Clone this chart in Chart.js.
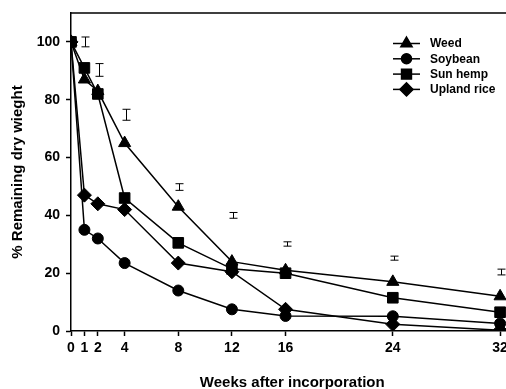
<!DOCTYPE html>
<html>
<head>
<meta charset="utf-8">
<script src="https://cdn.jsdelivr.net/npm/chart.js@4.4.0/dist/chart.umd.min.js"></script>
<style>
  html, body { margin: 0; padding: 0; background: #fff; overflow: hidden; }
  #wrap { width: 522px; height: 389px; }
  canvas { display: block; }
</style>
</head>
<body>
<div id="wrap"><canvas id="decayChart" width="522" height="389" style="width:522px;height:389px"></canvas></div>
<script>
// Weeks after incorporation
const weeks = [0, 1, 2, 4, 8, 12, 16, 24, 32];
const xTicks = [0, 1, 2, 4, 8, 12, 16, 24, 32];
const yTicks = [0, 20, 40, 60, 80, 100];

// % remaining dry weight per residue
const weed = [100, 87, 83, 65, 43, 24, 21, 17, 12];
const soybean = [100, 35, 32, 23.5, 14, 7.5, 5.2, 5.1, 2.6];
const sunHemp = [100, 91, 82, 46, 30.5, 21.5, 20, 11.5, 6.5];
const uplandRice = [100, 47, 44, 42, 23.5, 20.5, 7.5, 2.3, 0.3];

// LSD bars
const barWeeks = [1, 2, 4, 8, 12, 16, 24, 32];
const barCenter = [100, 90.3, 74.8, 49.8, 40, 30.1, 25.2, 20.4];
const barHalf = [1.7, 2.2, 1.9, 1.15, 1.0, 0.75, 0.7, 1.0];

const seriesNames = ['Weed', 'Soybean', 'Sun hemp', 'Upland rice'];
const FONT = '"Liberation Sans", Arial, sans-serif';

function makeSet(label, values, style, radius) {
    return {
        label: label,
        data: weeks.map((w, i) => ({ x: w, y: values[i] })),
        borderColor: '#000',
        backgroundColor: '#000',
        borderWidth: 1.5,
        pointStyle: style,
        pointRadius: radius,
        pointBorderWidth: 1,
        pointBackgroundColor: '#000',
        pointBorderColor: '#000',
        tension: 0,
        fill: false
    };
}

// frame top/right lines
const framePlugin = {
    id: 'frame',
    afterDraw(chart) {
        const { ctx, chartArea } = chart;
        ctx.save();
        ctx.strokeStyle = '#000';
        ctx.lineWidth = 1.5;
        ctx.beginPath();
        ctx.moveTo(chartArea.left, chartArea.top);
        ctx.lineTo(chartArea.right, chartArea.top);
        ctx.lineTo(chartArea.right, chartArea.bottom);
        ctx.stroke();
        ctx.restore();
    }
};

const errorBarPlugin = {
    id: 'errorBars',
    afterDatasetsDraw(chart) {
        const { ctx, scales } = chart;
        ctx.save();
        ctx.strokeStyle = '#000';
        ctx.lineWidth = 1;
        barWeeks.forEach((w, i) => {
            const x = Math.round(scales.x.getPixelForValue(w)) + 1.5;
            const yTop = scales.y.getPixelForValue(barCenter[i] + barHalf[i]);
            const yBot = scales.y.getPixelForValue(barCenter[i] - barHalf[i]);
            ctx.beginPath();
            ctx.moveTo(x, yTop); ctx.lineTo(x, yBot);
            ctx.moveTo(x - 4, yTop); ctx.lineTo(x + 4, yTop);
            ctx.moveTo(x - 4, yBot); ctx.lineTo(x + 4, yBot);
            ctx.stroke();
        });
        ctx.restore();
    }
};

const legendPlugin = {
    id: 'boxLegend',
    afterDraw(chart) {
        const { ctx } = chart;
        ctx.save();
        ctx.font = 'bold 12px ' + FONT;
        ctx.textBaseline = 'middle';
        ctx.fillStyle = '#000';
        chart.data.datasets.forEach((ds, i) => {
            const y = 43.5 + i * 15.3;
            ctx.strokeStyle = '#000';
            ctx.lineWidth = 1.5;
            ctx.beginPath();
            ctx.moveTo(393, y); ctx.lineTo(420, y);
            ctx.stroke();
            ctx.fillStyle = '#000';
            Chart.helpers.drawPoint(ctx, {
                pointStyle: ds.pointStyle,
                radius: ds.pointRadius - 0.5,
                borderWidth: 1,
                rotation: 0
            }, 406.5, y);
            ctx.fill();
            ctx.fillText(ds.label, 430, y + 0.5);
        });
        ctx.restore();
    }
};

const ctx = document.getElementById('decayChart').getContext('2d');
const decayChart = new Chart(ctx, {
    type: 'line',
    data: {
        datasets: [
            makeSet(seriesNames[0], weed, 'triangle', 7),
            makeSet(seriesNames[1], soybean, 'circle', 5.5),
            makeSet(seriesNames[2], sunHemp, 'rect', 7.5),
            makeSet(seriesNames[3], uplandRice, 'rectRot', 7)
        ]
    },
    options: {
        responsive: false,
        animation: false,
        layout: { padding: { top: 13, right: 3.5, left: 0, bottom: 0 } },
        plugins: {
            legend: { display: false },
            tooltip: { enabled: false }
        },
        scales: {
            x: {
                type: 'linear',
                min: 0,
                max: 33,
                afterBuildTicks: (scale) => { scale.ticks = xTicks.map(v => ({ value: v })); },
                afterFit: (scale) => {
                    scale.height = 58;
                    scale.paddingLeft = 0;
                    scale.paddingRight = 0;
                },
                grid: {
                    display: true,
                    drawOnChartArea: false,
                    drawTicks: true,
                    tickLength: 5,
                    tickWidth: 1.5,
                    tickColor: '#000'
                },
                border: { display: true, color: '#000', width: 1.5 },
                ticks: {
                    autoSkip: false,
                    maxRotation: 0,
                    padding: 4,
                    color: '#000',
                    font: { family: FONT, size: 14, weight: 'bold' }
                },
                title: {
                    display: true,
                    text: 'Weeks after incorporation',
                    color: '#000',
                    padding: { top: 0, bottom: -1.5 },
                    font: { family: FONT, size: 15, weight: 'bold', lineHeight: 1 }
                }
            },
            y: {
                min: 0,
                max: 110,
                afterBuildTicks: (scale) => { scale.ticks = yTicks.map(v => ({ value: v })); },
                afterFit: (scale) => {
                    scale.width = 71;
                    scale.paddingTop = 0;
                    scale.paddingBottom = 0;
                },
                grid: {
                    display: true,
                    drawOnChartArea: false,
                    drawTicks: true,
                    tickLength: 5,
                    tickWidth: 1.5,
                    tickColor: '#000'
                },
                border: { display: true, color: '#000', width: 1.5 },
                ticks: {
                    padding: 6,
                    color: '#000',
                    font: { family: FONT, size: 14, weight: 'bold' }
                },
                title: {
                    display: true,
                    text: '% Remaining dry wieght',
                    color: '#000',
                    padding: { top: 10.5, bottom: 0 },
                    font: { family: FONT, size: 15, weight: 'bold', lineHeight: 1 }
                }
            }
        }
    },
    plugins: [errorBarPlugin, framePlugin, legendPlugin]
});
</script>
</body>
</html>
